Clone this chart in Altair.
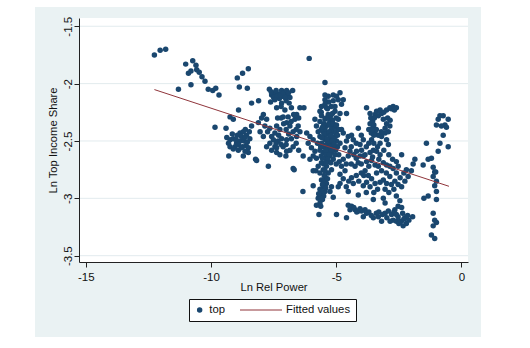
import altair as alt
import pandas as pd

# ---- data ----
top_points = [
    (-12.26, -1.75), (-12.03, -1.71), (-11.81, -1.70), (-11.30, -2.05), (-11.01, -1.83), (-10.73, -1.80),
    (-10.60, -1.84), (-10.57, -1.88), (-10.47, -1.90), (-10.90, -1.91), (-10.80, -1.89), (-10.80, -2.01),
    (-10.36, -1.94), (-10.24, -1.98), (-10.11, -2.05), (-9.93, -2.06), (-9.81, -2.04), (-9.68, -2.10),
    (-9.40, -2.39), (-9.84, -2.38), (-9.29, -2.63), (-8.95, -1.95), (-8.74, -1.91), (-8.51, -1.87),
    (-8.87, -2.03), (-8.55, -2.04), (-8.38, -2.17), (-8.10, -2.15), (-8.90, -2.23), (-9.24, -2.29), (-9.11, -2.31),
    (-9.37, -2.47), (-9.24, -2.49), (-9.11, -2.48), (-8.98, -2.52), (-8.84, -2.50), (-8.74, -2.55), (-8.60, -2.54),
    (-8.51, -2.56), (-9.04, -2.55), (-9.24, -2.55), (-8.84, -2.43), (-8.71, -2.42), (-8.58, -2.45), (-8.47, -2.42),
    (-8.63, -2.40), (-8.78, -2.46), (-8.95, -2.45), (-8.45, -2.48), (-8.51, -2.60), (-8.71, -2.63), (-8.22, -2.66),
    (-8.18, -2.67), (-8.38, -2.37), (-9.11, -2.57), (-8.91, -2.58), (-8.64, -2.59), (-7.71, -2.72),
    (-9.15, -2.44), (-9.00, -2.49), (-8.90, -2.53), (-8.80, -2.56), (-8.68, -2.50), (-8.55, -2.51), (-9.30, -2.52),
    (-8.65, -2.47),
    (-7.91, -2.27), (-7.98, -2.30), (-7.78, -2.31), (-8.11, -2.34), (-7.85, -2.37), (-7.65, -2.39), (-7.74, -2.42),
    (-8.04, -2.42), (-7.91, -2.46), (-7.58, -2.46), (-7.45, -2.43), (-7.51, -2.49), (-7.65, -2.52), (-7.45, -2.55),
    (-7.58, -2.58), (-7.38, -2.60), (-7.25, -2.62), (-7.38, -2.56), (-7.78, -2.55), (-7.32, -2.50), (-7.18, -2.48),
    (-7.25, -2.40), (-7.38, -2.37), (-7.34, -2.30), (-7.38, -2.21), (-7.18, -2.17), (-7.05, -2.23), (-7.12, -2.29),
    (-7.67, -2.05), (-7.58, -2.10), (-7.45, -2.08), (-7.31, -2.09), (-7.18, -2.06), (-7.05, -2.08), (-6.95, -2.11),
    (-7.14, -2.11), (-7.27, -2.13), (-6.85, -2.12), (-6.74, -2.06), (-6.88, -2.17), (-6.79, -2.21), (-6.92, -2.29),
    (-6.98, -2.34), (-6.85, -2.37), (-6.72, -2.42), (-6.58, -2.46), (-6.45, -2.42), (-6.52, -2.37), (-6.65, -2.31),
    (-6.58, -2.27), (-6.45, -2.21), (-6.29, -2.21), (-6.79, -2.48), (-6.98, -2.49), (-7.12, -2.55), (-6.98, -2.59),
    (-6.72, -2.55), (-7.01, -2.63), (-6.72, -2.74), (-6.68, -2.75), (-6.32, -2.63),
    (-7.50, -2.12), (-7.00, -2.15), (-7.20, -2.20), (-7.10, -2.35), (-6.90, -2.44), (-7.30, -2.45), (-6.60, -2.52),
    (-6.50, -2.58), (-6.08, -1.78),
    (-7.60, -2.07), (-7.40, -2.06), (-7.35, -2.11), (-7.22, -2.10), (-7.10, -2.08), (-6.98, -2.06), (-6.90, -2.08),
    (-7.45, -2.14), (-7.62, -2.16), (-7.05, -2.12), (-7.20, -2.30), (-7.00, -2.40), (-6.80, -2.33), (-7.40, -2.52),
    (-7.20, -2.53), (-7.00, -2.53), (-6.85, -2.58), (-6.60, -2.40), (-6.70, -2.27), (-6.50, -2.30),
    (-6.18, -2.43), (-6.05, -2.46), (-5.92, -2.49), (-6.12, -2.52), (-5.99, -2.56), (-5.85, -2.59), (-5.92, -2.63),
    (-5.79, -2.65), (-6.05, -2.66), (-5.85, -2.31), (-5.79, -2.37), (-5.72, -2.42), (-5.65, -2.46), (-5.75, -2.52),
    (-5.92, -2.76), (-5.81, -2.76), (-5.72, -2.72), (-5.59, -2.69), (-5.65, -2.24), (-5.59, -2.20),
    (-5.45, -1.99), (-6.33, -2.94), (-5.92, -2.89),
    (-5.59, -2.28), (-5.45, -2.31), (-5.32, -2.27), (-5.25, -2.33), (-5.19, -2.37), (-5.39, -2.37), (-5.52, -2.42),
    (-5.32, -2.43), (-5.12, -2.42), (-5.05, -2.46), (-5.25, -2.47), (-5.45, -2.49), (-5.59, -2.52), (-5.39, -2.53),
    (-5.19, -2.52), (-4.99, -2.50), (-5.12, -2.56), (-5.32, -2.59), (-5.52, -2.60), (-5.65, -2.58), (-5.45, -2.65),
    (-5.25, -2.63), (-5.12, -2.66), (-5.39, -2.72), (-5.52, -2.75), (-5.65, -2.78), (-5.45, -2.81), (-5.59, -2.84),
    (-5.39, -2.87), (-5.52, -2.90), (-5.65, -2.92), (-5.45, -2.94), (-5.59, -2.97), (-5.72, -3.00), (-5.55, -3.01),
    (-5.65, -3.04), (-5.79, -3.06), (-5.62, -3.07), (-5.69, -3.14), (-4.99, -3.14), (-5.12, -2.99), (-5.25, -2.94),
    (-5.19, -2.90), (-5.32, -2.78), (-5.19, -2.75),
    (-5.50, -2.35), (-5.40, -2.44), (-5.30, -2.50), (-5.20, -2.40), (-5.10, -2.48), (-5.35, -2.56), (-5.55, -2.55),
    (-5.45, -2.40), (-5.25, -2.55), (-5.15, -2.32), (-5.05, -2.38), (-5.40, -2.30), (-5.60, -2.40), (-5.50, -2.47),
    (-5.30, -2.35), (-5.00, -2.42), (-4.95, -2.55), (-5.20, -2.60), (-5.40, -2.62), (-5.60, -2.63), (-5.50, -2.70),
    (-5.30, -2.68), (-5.45, -2.76), (-5.50, -2.85), (-5.60, -2.25), (-5.35, -2.22),
    (-5.65, -2.33), (-5.55, -2.38), (-5.48, -2.44), (-5.38, -2.48), (-5.28, -2.42), (-5.22, -2.45), (-5.15, -2.50),
    (-5.08, -2.53), (-5.02, -2.58), (-5.18, -2.58), (-5.28, -2.62), (-5.42, -2.58), (-5.58, -2.47), (-5.62, -2.55),
    (-5.35, -2.66), (-5.22, -2.69), (-5.42, -2.69), (-5.55, -2.65), (-5.48, -2.80), (-5.35, -2.83), (-5.55, -2.88),
    (-5.42, -2.91), (-5.60, -2.94), (-5.50, -2.98), (-5.62, -3.00), (-5.70, -2.96), (-5.32, -2.30), (-5.22, -2.28),
    (-5.12, -2.35), (-5.00, -2.30), (-4.95, -2.45), (-4.90, -2.40), (-5.05, -2.20), (-5.20, -2.20), (-5.30, -2.16),
    (-5.15, -2.26), (-5.05, -2.62), (-4.90, -2.62), (-5.00, -2.70), (-4.88, -2.68),
    (-5.45, -2.10), (-5.32, -2.11), (-5.12, -2.10), (-4.99, -2.11), (-4.85, -2.08), (-5.45, -2.14), (-5.45, -2.18),
    (-5.39, -2.21), (-5.12, -2.15), (-4.92, -2.14), (-4.72, -2.14), (-4.79, -2.18), (-5.05, -2.24), (-4.85, -2.26),
    (-4.59, -2.26), (-4.92, -2.31), (-4.99, -2.36), (-4.79, -2.40),
    (-4.72, -2.43), (-4.52, -2.46), (-4.59, -2.50), (-4.39, -2.45), (-4.32, -2.49), (-4.12, -2.39), (-4.85, -2.52),
    (-4.65, -2.56), (-4.45, -2.59), (-4.52, -2.63), (-4.72, -2.66), (-4.79, -2.72), (-4.65, -2.76), (-4.85, -2.79),
    (-4.72, -2.83), (-4.85, -2.87), (-4.92, -2.90), (-4.52, -2.94), (-4.39, -2.82), (-4.32, -2.87), (-4.25, -2.72),
    (-4.12, -2.69), (-4.05, -2.63), (-3.99, -2.58), (-4.19, -2.59), (-3.92, -2.49), (-4.05, -2.53), (-3.79, -2.21),
    (-4.59, -3.17), (-4.52, -3.06), (-4.39, -3.07), (-4.45, -3.10), (-4.25, -3.10), (-4.12, -3.11), (-3.99, -3.11),
    (-3.85, -3.10), (-3.79, -3.13), (-3.92, -3.16),
    (-3.65, -2.26), (-3.59, -2.30), (-3.65, -2.35), (-3.55, -2.39), (-3.45, -2.42), (-3.32, -2.45), (-3.19, -2.46),
    (-3.05, -2.43), (-2.92, -2.42), (-2.86, -2.37), (-2.99, -2.35), (-3.12, -2.31), (-3.32, -2.28), (-3.45, -2.27),
    (-3.39, -2.24), (-3.19, -2.26), (-2.99, -2.23), (-2.86, -2.21), (-2.73, -2.20), (-2.60, -2.21), (-3.59, -2.49),
    (-3.25, -2.52), (-2.99, -2.49), (-2.92, -2.53), (-3.55, -2.33), (-3.50, -2.36), (-3.40, -2.40), (-3.60, -2.43),
    (-3.70, -2.40), (-3.05, -2.39),
    (-3.62, -2.30), (-3.58, -2.40), (-3.48, -2.30), (-3.25, -2.23), (-3.10, -2.25), (-2.80, -2.22), (-2.68, -2.23),
    (-2.95, -2.30), (-2.85, -2.32), (-3.20, -2.42), (-3.50, -2.45),
    (-4.40, -2.55), (-4.20, -2.52), (-4.00, -2.45), (-3.80, -2.55), (-3.70, -2.52), (-3.85, -2.62), (-3.50, -2.52),
    (-3.35, -2.55), (-3.10, -2.58), (-2.90, -2.62), (-2.75, -2.66), (-2.60, -2.68),
    (-3.92, -2.63), (-3.79, -2.68), (-3.65, -2.60), (-3.52, -2.58), (-3.39, -2.59), (-3.25, -2.62), (-3.59, -2.67),
    (-3.45, -2.71), (-3.32, -2.72), (-3.12, -2.69), (-2.99, -2.71), (-2.86, -2.72), (-2.73, -2.74), (-2.53, -2.72),
    (-2.39, -2.62), (-3.85, -2.76), (-3.72, -2.80), (-3.59, -2.83), (-3.79, -2.86), (-3.92, -2.89), (-3.65, -2.90),
    (-3.45, -2.87), (-3.25, -2.86), (-3.12, -2.84), (-2.99, -2.87), (-3.39, -2.78), (-3.19, -2.76), (-2.86, -2.81),
    (-2.66, -2.85), (-2.53, -2.88), (-2.39, -2.90), (-2.26, -2.85), (-2.13, -2.81), (-2.00, -2.76), (-1.93, -2.70),
    (-1.86, -2.66), (-4.12, -2.97), (-3.52, -3.01), (-3.12, -3.00),
    (-4.00, -2.78), (-4.10, -2.85), (-3.55, -2.64), (-3.30, -2.66), (-3.00, -2.78), (-2.80, -2.88), (-4.30, -2.62),
    (-4.20, -2.80), (-3.70, -2.72), (-2.60, -2.78),
    (-4.60, -2.70), (-4.40, -2.70), (-4.20, -2.65), (-4.00, -2.70), (-3.90, -2.80), (-3.80, -2.95), (-3.50, -2.95),
    (-3.35, -2.92), (-3.05, -2.92), (-2.90, -2.95), (-2.70, -2.92), (-2.45, -2.82), (-2.30, -2.78), (-2.20, -2.75),
    (-4.50, -2.85), (-4.60, -2.90),
    (-3.52, -3.17), (-3.32, -3.16), (-3.19, -3.20), (-3.05, -3.13), (-2.92, -3.11), (-2.79, -3.14), (-2.73, -3.19),
    (-2.60, -3.20), (-2.53, -3.16), (-2.66, -3.10), (-2.53, -3.07), (-2.39, -3.08), (-2.26, -3.17), (-2.20, -3.22),
    (-2.33, -3.24), (-1.95, -3.16), (-2.60, -2.98), (-2.46, -3.02), (-3.05, -3.04), (-2.45, -3.20), (-2.35, -3.13),
    (-2.85, -3.20), (-3.40, -3.13), (-2.10, -3.19),
    (-4.30, -3.08), (-4.18, -3.12), (-4.05, -3.09), (-3.70, -3.12), (-3.60, -3.15), (-3.30, -3.12), (-3.15, -3.14),
    (-2.98, -3.17), (-2.70, -3.12), (-2.60, -3.14), (-2.50, -3.22), (-2.40, -3.20), (-2.30, -3.18), (-2.15, -3.15),
    (-1.50, -3.00), (-1.33, -2.98), (-1.40, -2.52), (-1.53, -2.71), (-1.33, -2.66), (-1.20, -2.65), (-1.13, -2.73),
    (-1.07, -2.77), (-1.13, -2.81), (-1.00, -2.85), (-1.07, -2.89), (-1.00, -2.94), (-1.00, -3.01), (-1.13, -3.13),
    (-1.07, -3.19), (-1.00, -3.21), (-1.13, -3.24), (-1.20, -3.32), (-1.07, -3.35), (-0.93, -2.59), (-0.86, -2.52),
    (-0.73, -2.45), (-0.53, -2.55), (-1.00, -2.36), (-0.93, -2.31), (-0.86, -2.28), (-0.73, -2.28), (-0.66, -2.36),
    (-0.53, -2.31), (-0.60, -2.38), (-0.80, -2.37), (-1.03, -2.77),
]
fit_x = [-12.26, -0.50]
fit_y = [-2.052, -2.895]
x_ticks = [-15, -10, -5, 0]
y_ticks = [-3.5, -3, -2.5, -2, -1.5]
series_names = ["top", "Fitted values"]

# ---- styling ----
NAVY = "#1a476f"
MAROON = "#90353b"
BG = "#eaf2f3"
GRID = "#e2ebee"
FONT = "Liberation Sans"
W, H = 389, 244
LINE_PATH = "M-1,-0.025L1,-0.025L1,0.025L-1,0.025Z"

df = pd.DataFrame(top_points, columns=["ln_rel_power", "ln_top_share"])
df["series"] = "top"
df_fit = pd.DataFrame({"ln_rel_power": fit_x, "ln_top_share": fit_y})
df_grid = pd.DataFrame({"ln_top_share": y_ticks})
one = pd.DataFrame({"k": [0]})

xs = alt.Scale(domain=[-15.27, 0.26], nice=False, zero=False)
ys = alt.Scale(domain=[-3.555, -1.428], nice=False, zero=False)
minus_fix = "replace(datum.label, '\u2212', '-')"

x_axis = alt.Axis(
    title="Ln Rel Power", values=x_ticks, format="~g", grid=False, labelExpr=minus_fix,
    domainColor="#222222", tickColor="#222222", domainWidth=1, tickWidth=1, tickSize=5,
    labelPadding=4, labelFont=FONT, labelFontSize=11.5, labelColor="#111111",
    labelFlush=False, labelOverlap=False,
    titleFont=FONT, titleFontSize=11.2, titleColor="#111111", titleFontWeight="normal",
    titleX=W / 2, titleY=25, titleBaseline="middle", titleAlign="center", zindex=1,
)
y_axis = alt.Axis(
    title="Ln Top Income Share", values=y_ticks, format="~g", grid=False, labelExpr=minus_fix,
    domainColor="#222222", tickColor="#222222", domainWidth=1, tickWidth=1, tickSize=5,
    labelPadding=1, labelFont=FONT, labelFontSize=11.5, labelColor="#111111",
    labelAngle=270, labelAlign="center", labelBaseline="bottom", labelFlush=False, labelOverlap=False,
    titleFont=FONT, titleFontSize=11.2, titleColor="#111111", titleFontWeight="normal",
    titleAngle=270, titleX=-26, titleY=H / 2, titleBaseline="middle", titleAlign="center", zindex=1,
)

leg = alt.Legend(
    title=None, orient="none", legendX=110, legendY=281, direction="horizontal",
    strokeColor="#111111", fillColor="white", padding=5, zindex=2, clipHeight=12,
    labelFont=FONT, labelFontSize=11.3, labelColor="#111111", labelOffset=4,
    columnPadding=14, symbolStrokeWidth=0, symbolOpacity=1,
)

bg = alt.Chart(one).mark_rect(color=BG).encode(
    x=alt.value(-44), x2=alt.value(402), y=alt.value(-11), y2=alt.value(319)
)
plot_bg = alt.Chart(one).mark_rect(color="white").encode(
    x=alt.value(0), x2=alt.value(W), y=alt.value(0), y2=alt.value(H)
)
grid = alt.Chart(df_grid).mark_rule(color=GRID, strokeWidth=1).encode(
    y=alt.Y("ln_top_share:Q", scale=ys, axis=y_axis), x=alt.value(0), x2=alt.value(W)
)
points = alt.Chart(df).mark_point(filled=True, opacity=1, strokeWidth=0).encode(
    x=alt.X("ln_rel_power:Q", scale=xs, axis=x_axis),
    y=alt.Y("ln_top_share:Q", scale=ys, axis=y_axis),
    color=alt.Color("series:N", scale=alt.Scale(domain=series_names, range=[NAVY, MAROON]), legend=leg),
    shape=alt.Shape("series:N", scale=alt.Scale(domain=series_names, range=["circle", LINE_PATH]), legend=leg),
    size=alt.Size("series:N", scale=alt.Scale(type="ordinal", domain=series_names, range=[30, 1764]), legend=leg),
)
fit = alt.Chart(df_fit).mark_line(color=MAROON, strokeWidth=1).encode(
    x=alt.X("ln_rel_power:Q", scale=xs, axis=x_axis),
    y=alt.Y("ln_top_share:Q", scale=ys, axis=y_axis),
)

chart = alt.layer(bg, plot_bg, grid, points, fit).properties(
    width=W, height=H,
    autosize=alt.AutoSizeParams(type="none"),
    padding={"left": 79, "top": 18, "right": 62, "bottom": 86},
).configure(background="white").configure_view(stroke=None)

chart.save("out.html", embed_options={"renderer": "svg", "actions": False})
